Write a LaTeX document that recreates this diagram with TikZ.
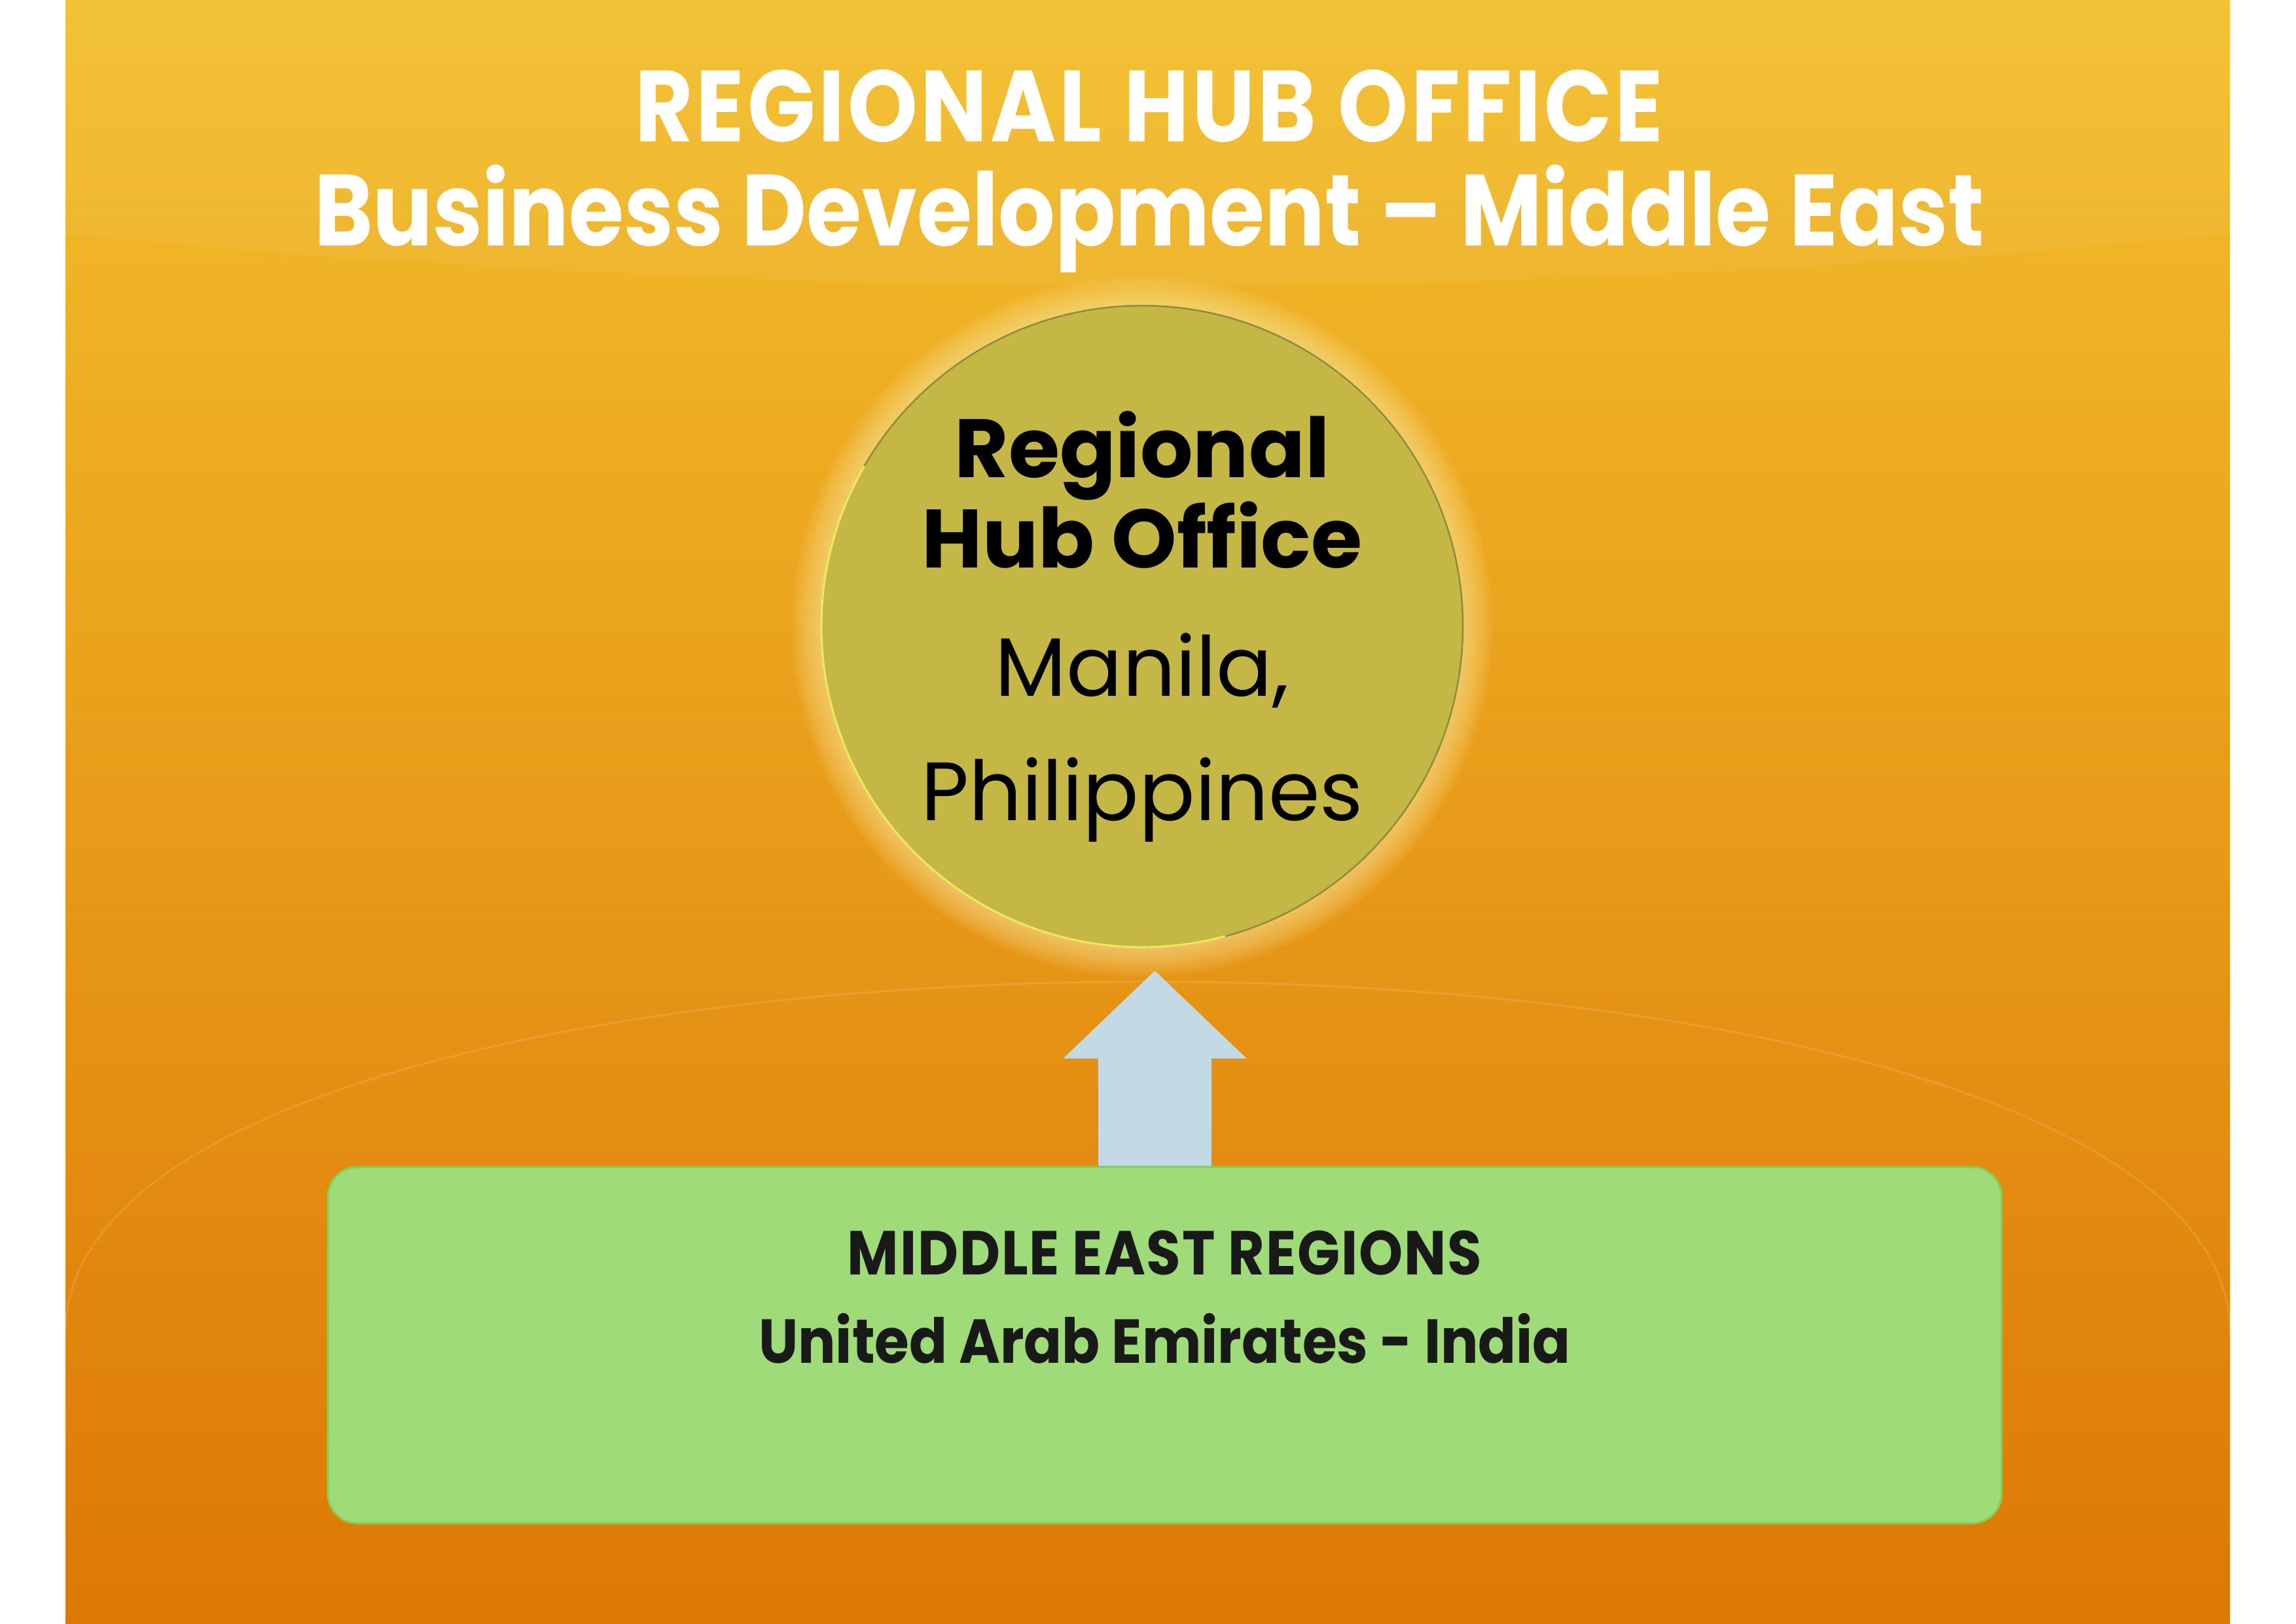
\documentclass[tikz,border=0pt]{standalone}
\usepackage{fontspec}
\setmainfont{Poppins}
\newfontfamily\headfont[FakeStretch=0.88]{Poppins}
\newfontfamily\boxfont[FakeStretch=0.90]{Poppins}
\usetikzlibrary{positioning,arrows.meta,calc}

\definecolor{slidetop}{HTML}{F3BF2C}
\definecolor{slidemid}{HTML}{EEA42A}
\definecolor{slidebottom}{HTML}{DD7806}
\definecolor{hubfill}{HTML}{C4B746}
\definecolor{hubrim}{HTML}{8E8A3E}
\definecolor{hubglint}{HTML}{EEEA5C}
\definecolor{hubglow}{HTML}{FFF2B0}
\definecolor{regionfill}{HTML}{9FDB78}
\definecolor{regionrim}{HTML}{84D255}
\definecolor{arrowfill}{HTML}{C3DAE4}

\tikzset{
  titletext/.style={
    text=white,
    font=\headfont\bfseries\fontsize{44}{50}\selectfont
  },
  hub/.style={
    circle,
    minimum size=9.8cm,
    inner sep=0pt,
    outer sep=0pt,
    fill=hubfill,
    draw=hubrim,
    line width=0.7pt,
    align=center,
    font=\fontsize{36}{39.4}\selectfont
  },
  regionbox/.style={
    rectangle,
    rounded corners=0.45cm,
    minimum width=25.57cm,
    minimum height=5.44cm,
    fill=regionfill,
    draw=regionrim,
    line width=0.9pt
  },
  regiontext/.style={
    inner sep=0pt,
    align=center,
    text=black!90,
    font=\boxfont\bfseries\fontsize{27}{38.3}\selectfont
  },
  uparrow/.style={
    draw=arrowfill,
    line width=1.73cm,
    -{Triangle[length=1.34cm, width=2.80cm, line width=0pt]}
  }
}

\begin{document}
\begin{tikzpicture}
  \useasboundingbox (0,0) rectangle (35.08,24.80);

  % Slide background
  \fill[white] (0,0) rectangle (35.08,24.80);
  \shade[
    top color=slidetop,
    middle color=slidemid,
    bottom color=slidebottom
  ] (1.00,0) rectangle (34.07,24.80);

  % Light band under the title
  \fill[white, opacity=0.05]
    (1.00,24.80) -- (1.00,21.22)
    .. controls (12,20.18) and (23,20.18) .. (34.07,21.22)
    -- (34.07,24.80) -- cycle;

  % Faint arc over the lower half
  \draw[white, opacity=0.12, line width=0.8pt]
    (1.00,4.44) .. controls (1.00,11.59) and (34.07,11.59) .. (34.07,4.44);

  % Title
  \node[titletext, anchor=base] (title) at (17.56,22.63)
    {\addfontfeature{LetterSpace=3}REGIONAL HUB OFFICE};
  \node[titletext, anchor=base] (subtitle) at (17.56,21.04)
    {Business Development – Middle East};

  % Glow round the hub
  \foreach \i in {1,...,9}
    \fill[hubglow, opacity=0.07] (17.45,15.23) circle[radius={4.9+0.05*\i}];

  % Hub circle
  \node[hub] (hub) at (17.45,15.23)
    {\textbf{Regional}\\\textbf{Hub Office}\\[16.4pt]Manila,\\[14.6pt]Philippines};
  \draw[hubglint, line width=0.9pt]
    (hub.150) arc[start angle=150, end angle=285, radius=4.9cm];

  % Regions box
  \node[regionbox] (regions) at (17.795,4.25) {};
  \node[regiontext, below=0.98cm of regions.north] (regionlabel)
    {\addfontfeature{LetterSpace=2}MIDDLE EAST REGIONS\\United Arab Emirates - India};

  % Arrow up to the hub
  \coordinate (tip) at ([yshift=-0.36cm]hub.south);
  \coordinate (foot) at ([xshift=-0.15cm]regions.north);
  \draw[uparrow] (foot) -- (foot |- tip);
\end{tikzpicture}
\end{document}
